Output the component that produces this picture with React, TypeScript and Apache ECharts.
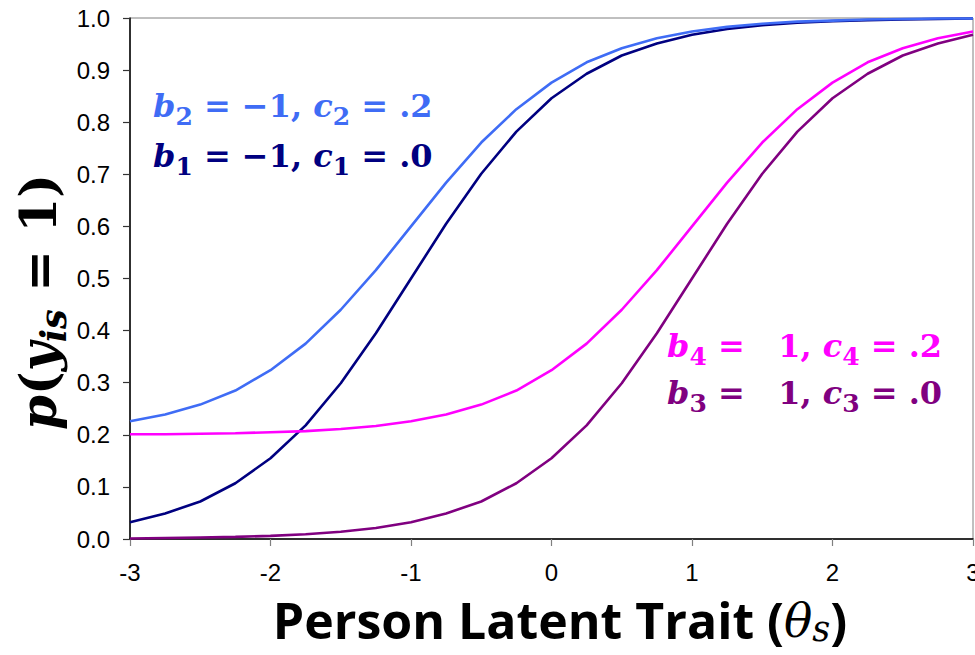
import React, { useEffect, useRef } from "react";
import * as echarts from "echarts";

// Ability levels on the x axis
const thetas = [
  -3, -2.75, -2.5, -2.25, -2, -1.75, -1.5, -1.25, -1, -0.75, -0.5, -0.25, 0,
  0.25, 0.5, 0.75, 1, 1.25, 1.5, 1.75, 2, 2.25, 2.5, 2.75, 3,
];

// Item 1: b = -1, c = .0
const item1 = [
  0.032, 0.049, 0.072, 0.107, 0.155, 0.218, 0.299, 0.395, 0.5, 0.605, 0.701,
  0.782, 0.846, 0.893, 0.928, 0.951, 0.968, 0.979, 0.986, 0.991, 0.994, 0.996,
  0.997, 0.998, 0.999,
];
// Item 2: b = -1, c = .2
const item2 = [
  0.226, 0.239, 0.258, 0.285, 0.324, 0.375, 0.44, 0.516, 0.6, 0.684, 0.761,
  0.825, 0.876, 0.915, 0.942, 0.961, 0.974, 0.983, 0.989, 0.993, 0.995, 0.997,
  0.998, 0.999, 0.999,
];
// Item 3: b = 1, c = .0
const item3 = [
  0.001, 0.002, 0.003, 0.004, 0.006, 0.009, 0.014, 0.021, 0.032, 0.049, 0.072,
  0.107, 0.155, 0.218, 0.299, 0.395, 0.5, 0.605, 0.701, 0.782, 0.846, 0.893,
  0.928, 0.951, 0.968,
];
// Item 4: b = 1, c = .2
const item4 = [
  0.201, 0.201, 0.202, 0.203, 0.205, 0.207, 0.211, 0.217, 0.226, 0.239, 0.258,
  0.285, 0.324, 0.375, 0.44, 0.516, 0.6, 0.684, 0.761, 0.825, 0.876, 0.915,
  0.942, 0.961, 0.974,
];

const COLORS = {
  item1: "#000080",
  item2: "#3F6CF5",
  item3: "#800080",
  item4: "#FF00FF",
};

const MATH_FONT = "'DejaVu Serif', 'Liberation Serif', serif";

function mathRich(fill: string, size: number, subSize: number, lh: number, subLh: number) {
  const base = { fontFamily: MATH_FONT, fontWeight: "bold", fill };
  return {
    v: { ...base, fontStyle: "italic", fontSize: size, lineHeight: lh },
    n: { ...base, fontSize: size, lineHeight: lh },
    s: { ...base, fontSize: subSize, lineHeight: subLh, verticalAlign: "bottom" },
    si: {
      ...base,
      fontStyle: "italic",
      fontSize: subSize,
      lineHeight: subLh,
      verticalAlign: "bottom",
    },
  };
}

function paramLabel(
  x: number,
  y: number,
  idx: string,
  b: string,
  c: string,
  fill: string
) {
  return {
    type: "text",
    x,
    y,
    style: {
      text: `{v|b}{s|${idx}}{n| = ${b}, }{v|c}{s|${idx}}{n| = ${c}}`,
      rich: mathRich(fill, 32, 25, 46, 22),
      align: "left",
      verticalAlign: "middle",
    },
  };
}

function pairs(ys: number[]) {
  return thetas.map((t, i) => [t, ys[i]]);
}

export default function App() {
  const ref = useRef<HTMLDivElement>(null);

  useEffect(() => {
    if (!ref.current) return;
    const chart = echarts.init(ref.current, null, { renderer: "svg" });

    const lineSeries = (name: string, ys: number[], color: string) => ({
      name,
      type: "line",
      data: pairs(ys),
      symbol: "none",
      smooth: false,
      lineStyle: { color, width: 2.6 },
      itemStyle: { color },
    });

    chart.setOption({
      animation: false,
      backgroundColor: "#ffffff",
      grid: {
        left: 130,
        right: 2,
        top: 18,
        bottom: 116,
        outerBoundsMode: "none",
        containLabel: false,
        show: true,
        borderColor: "#808080",
        borderWidth: 1,
      },
      xAxis: {
        type: "value",
        min: -3,
        max: 3,
        interval: 1,
        axisLine: { show: true, onZero: false, lineStyle: { color: "#000", width: 1.5 } },
        axisTick: { show: true, length: 7, lineStyle: { color: "#808080", width: 1.2 } },
        axisLabel: {
          color: "#000",
          fontFamily: "'Liberation Sans', Arial, sans-serif",
          fontSize: 24,
          margin: 21,
          showMaxLabel: true,
          showMinLabel: true,
        },
        splitLine: { show: false },
      },
      yAxis: {
        type: "value",
        min: 0,
        max: 1,
        interval: 0.1,
        axisLine: { show: true, onZero: false, lineStyle: { color: "#000", width: 1.5 } },
        axisTick: { show: true, length: 7, lineStyle: { color: "#333", width: 1.2 } },
        axisLabel: {
          color: "#000",
          fontFamily: "'Liberation Sans', Arial, sans-serif",
          fontSize: 24,
          margin: 20,
          formatter: (v: number) => v.toFixed(1),
        },
        splitLine: { show: false },
      },
      series: [
        lineSeries("b1 = -1, c1 = .0", item1, COLORS.item1),
        lineSeries("b2 = -1, c2 = .2", item2, COLORS.item2),
        lineSeries("b4 = 1, c4 = .2", item4, COLORS.item4),
        lineSeries("b3 = 1, c3 = .0", item3, COLORS.item3),
      ],
      graphic: [
        paramLabel(153, 106, "2", "\u22121", ".2", COLORS.item2),
        paramLabel(153, 156, "1", "\u22121", ".0", COLORS.item1),
        paramLabel(667, 346, "4", "  1", ".2", COLORS.item4),
        paramLabel(667, 393, "3", "  1", ".0", COLORS.item3),
        {
          // y-axis title: p(y_is = 1), reading bottom to top
          type: "text",
          x: 38,
          y: 302,
          rotation: Math.PI / 2,
          style: {
            text: "{v|p}{n|(}{v|y}{si|is}{n| = 1)}",
            rich: mathRich("#000", 50, 35, 66, 30),
            align: "center",
            verticalAlign: "middle",
          },
        },
        {
          // x-axis title: Person Latent Trait (θ_s)
          type: "text",
          x: 560,
          y: 620,
          style: {
            text: "{t|Person Latent Trait (}{th|\u03B8}{sb|s}{t|)}",
            rich: {
              t: {
                fontFamily: "'Open Sans', Lato, sans-serif",
                fontWeight: "bold",
                fontSize: 50,
                lineHeight: 52,
                fill: "#000",
              },
              th: {
                fontFamily: MATH_FONT,
                fontStyle: "italic",
                fontSize: 47,
                lineHeight: 52,
                fill: "#000",
              },
              sb: {
                fontFamily: MATH_FONT,
                fontStyle: "italic",
                fontSize: 35,
                lineHeight: 18,
                verticalAlign: "bottom",
                fill: "#000",
              },
            },
            align: "center",
            verticalAlign: "middle",
          },
        },
      ],
    });

    return () => chart.dispose();
  }, []);

  return (
    <div
      ref={ref}
      style={{ position: "fixed", left: 0, top: 0, width: 975, height: 655 }}
    />
  );
}
